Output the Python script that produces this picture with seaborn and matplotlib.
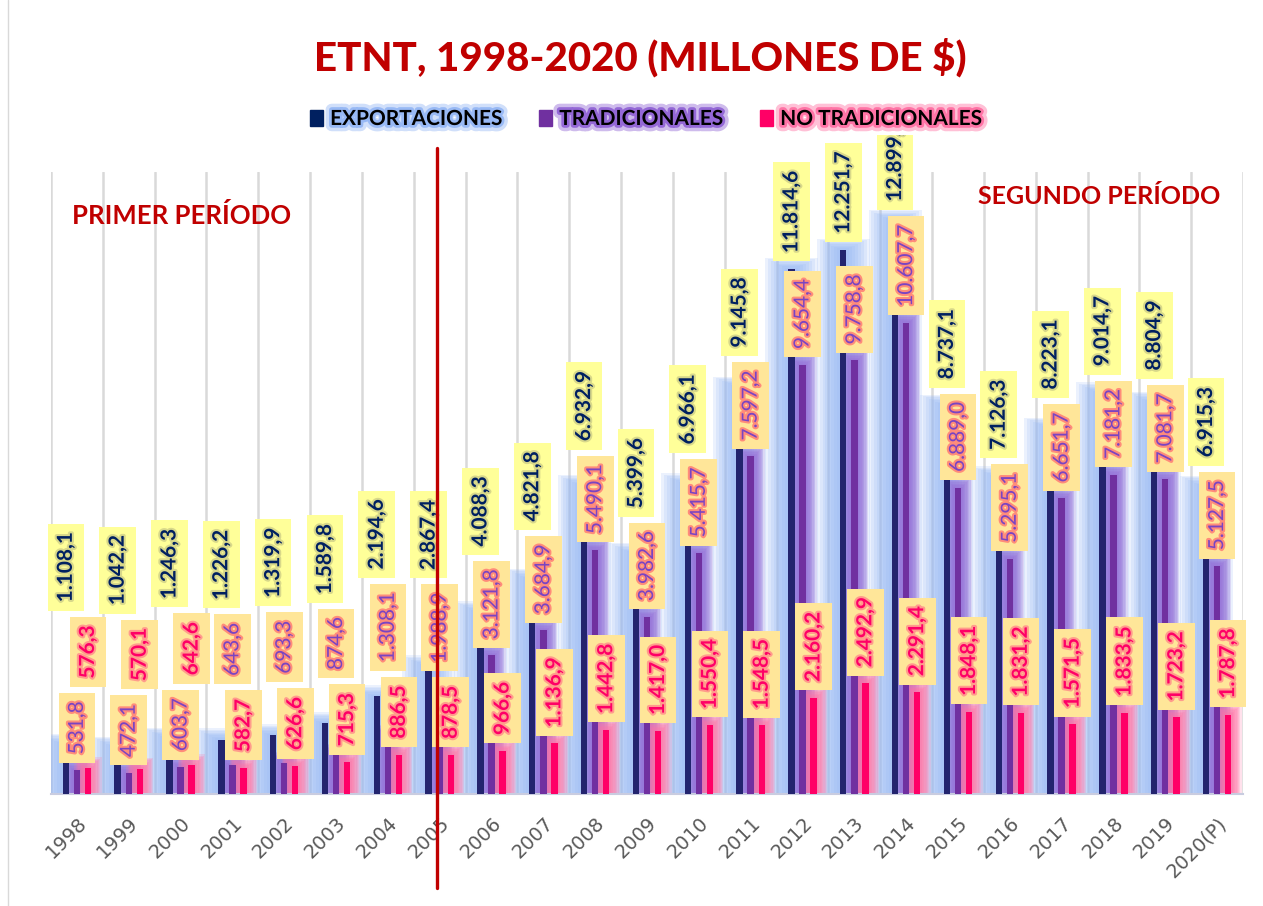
import numpy as np
import pandas as pd
import seaborn as sns
import matplotlib.pyplot as plt
import matplotlib.patheffects as pe
from matplotlib.patches import Patch, Rectangle
from matplotlib.lines import Line2D
from matplotlib.transforms import Bbox, TransformedBbox, blended_transform_factory

years = ['1998', '1999', '2000', '2001', '2002', '2003', '2004', '2005', '2006',
         '2007', '2008', '2009', '2010', '2011', '2012', '2013', '2014', '2015',
         '2016', '2017', '2018', '2019', '2020(P)']
exportaciones = [1108.1, 1042.2, 1246.3, 1226.2, 1319.9, 1589.8, 2194.6, 2867.4,
                 4088.3, 4821.8, 6932.9, 5399.6, 6966.1, 9145.8, 11814.6, 12251.7,
                 12899.1, 8737.1, 7126.3, 8223.1, 9014.7, 8804.9, 6915.3]
tradicionales = [531.8, 472.1, 603.7, 643.6, 693.3, 874.6, 1308.1, 1988.9,
                 3121.8, 3684.9, 5490.1, 3982.6, 5415.7, 7597.2, 9654.4, 9758.8,
                 10607.7, 6889.0, 5295.1, 6651.7, 7181.2, 7081.7, 5127.5]
no_tradicionales = [576.3, 570.1, 642.6, 582.7, 626.6, 715.3, 886.5, 878.5,
                    966.6, 1136.9, 1442.8, 1417.0, 1550.4, 1548.5, 2160.2, 2492.9,
                    2291.4, 1848.1, 1831.2, 1571.5, 1833.5, 1723.2, 1787.8]
series = ['EXPORTACIONES', 'TRADICIONALES', 'NO TRADICIONALES']
title = 'ETNT, 1998-2020 (MILLONES DE $)'

colors = ['#23246E', '#7030A0', '#FF0066']
legend_colors = ['#002060', '#7030A0', '#FF0066']
glow_colors = ['#98B9F5', '#9468D6', '#FF74A6']
glow_spread = [0.9, 0.42, 0.40]
glow_alpha = [0.19, 0.19, 0.21]

df = pd.DataFrame({
    'year': years * 3,
    'serie': np.repeat(series, len(years)),
    'value': exportaciones + tradicionales + no_tradicionales,
})

sns.set_theme(style='white')
plt.rcParams['font.family'] = ['Lato', 'DejaVu Sans']

W, H = 1263, 906
fig = plt.figure(figsize=(W / 100, H / 100), dpi=100)
ax = fig.add_axes([51 / W, 112 / H, (1243 - 51) / W, 622 / H])

sns.barplot(data=df, x='year', y='value', hue='serie', hue_order=series,
            palette=colors, width=0.64, gap=0.42, errorbar=None, legend=False,
            saturation=1, linewidth=0, zorder=3, ax=ax)
ax.set_ylim(0, 14000)
ax.set_xlim(-0.5, len(years) - 0.5)

# glow around the thin bars
for i, cont in enumerate(ax.containers):
    for bar in cont:
        w = bar.get_width()
        h = bar.get_height()
        cx = bar.get_x() + bar.get_width() / 2
        for k in range(1, 9):
            gw = w + glow_spread[i] * k / 8
            ax.add_patch(Rectangle((cx - gw / 2, 0), gw, h + 250 * k / 8,
                                   color=glow_colors[i], alpha=glow_alpha[i], lw=0,
                                   zorder=1 + 0.2 * i))

# axes styling
ax.set_xlabel('')
ax.set_ylabel('')
ax.set_yticks([])
ax.set_xticks(range(len(years)))
ax.set_xticklabels(years, rotation=45, ha='right', va='top',
                   rotation_mode='anchor', fontsize=14, color='#595959',
                   family='DejaVu Sans')
ax.set_xticks(np.arange(-0.5, len(years), 1), minor=True)
ax.tick_params(axis='x', which='both', length=0, pad=14)
ax.grid(which='minor', axis='x', color='#D9D9D9', lw=1.8, zorder=0.5)
ax.grid(which='major', visible=False)
ax.set_axisbelow(True)
for s in ['top', 'right', 'left']:
    ax.spines[s].set_visible(False)
ax.spines['bottom'].set_color('#C9CCE0')
ax.spines['bottom'].set_linewidth(1.5)


def fmt(v):
    return f'{v:,.1f}'.replace(',', ' ').replace('.', ',').replace(' ', '.')


label_styles = [
    dict(color='#002060', fontweight='bold', box='#FFFF99', halo='#D8D88A'),
    dict(color='#7A44C2', fontweight='normal', box='#FFE699', halo='#FF8C7A'),
    dict(color='#FF0066', fontweight='bold', box='#FFE699', halo='#FF9C8C'),
]
# labels are cut off just under the legend, as in the original chart
clip = TransformedBbox(Bbox([[0, 0], [1, 1 - 135 / H]]), fig.transFigure)

labels = [[], [], []]
for i, cont in enumerate(ax.containers):
    st = label_styles[i]
    vals = [exportaciones, tradicionales, no_tradicionales][i]
    for bar, v in zip(cont, vals):
        cx = bar.get_x() + bar.get_width() / 2
        t = ax.annotate(fmt(v), xy=(cx, v), xytext=(0, 11.5),
                        textcoords='offset points', rotation=90,
                        ha='center', va='bottom', fontsize=15,
                        color=st['color'], fontweight=st['fontweight'],
                        bbox=dict(boxstyle='square,pad=0.4', fc=st['box'], ec='none'),
                        zorder=5, annotation_clip=False,
                        path_effects=[pe.withStroke(linewidth=3, foreground=st['halo'])])
        t.set_clip_on(True)
        t.set_clip_box(clip)
        labels[i].append(t)

# stack labels upward so they don't cover each other
fig.canvas.draw()
r = fig.canvas.get_renderer()
gap = 6


def box(t):
    return t.get_bbox_patch().get_window_extent(r)


def lift(t, dy):
    x, y = t.xyann
    t.xyann = (x, y + dy * 72 / fig.dpi)


for j in range(len(years)):
    tex, ttr, tnt = labels[0][j], labels[1][j], labels[2][j]
    low, high = (ttr, tnt) if tradicionales[j] <= no_tradicionales[j] else (tnt, ttr)
    bl, bh = box(low), box(high)
    need = bl.y1 + gap - bh.y0
    high_top = bh.y1
    if need > 0:
        lift(high, need)
        high_top += need
    top = max(bl.y1, high_top)
    need = top + gap - box(tex).y0
    if need > 0:
        lift(tex, need)

# period separator
trans = blended_transform_factory(ax.transData, ax.transAxes)
xsep = years.index('2005') - 0.05
ax.plot([xsep, xsep], [-0.151, 1.0386], transform=trans, color='#C00000',
        lw=2.4, clip_on=False, zorder=6)

fig.add_artist(Line2D([8 / W, 8 / W], [0, 1], transform=fig.transFigure,
                      color='#D9D9D9', lw=1))

fig.text(640 / W, 1 - 58 / H, title, ha='center', va='center', fontsize=29,
         fontweight='black', color='#C00000')

fig.text(72 / W, 1 - 215 / H, 'PRIMER PERÍODO', ha='left', va='center',
         fontsize=18.5, fontweight='bold', color='#C00000')
fig.text(1220 / W, 1 - 197 / H, 'SEGUNDO PERÍODO', ha='right', va='center',
         fontsize=18, fontweight='bold', color='#C00000')

handles = [Patch(color=c) for c in legend_colors]
leg = fig.legend(handles, series, loc='center', bbox_to_anchor=(646 / W, 1 - 119 / H),
                 ncol=3, frameon=False, handlelength=0.6, handleheight=0.8,
                 handletextpad=0.35, columnspacing=1.8,
                 prop=dict(family='Lato', weight='bold', size=15))
for txt, gc in zip(leg.get_texts(), glow_colors):
    txt.set_color('black')
    txt.set_path_effects([pe.Stroke(linewidth=9, foreground=gc, alpha=0.45),
                          pe.Stroke(linewidth=4, foreground=gc),
                          pe.Normal()])

fig.savefig('out.png', dpi=100)
